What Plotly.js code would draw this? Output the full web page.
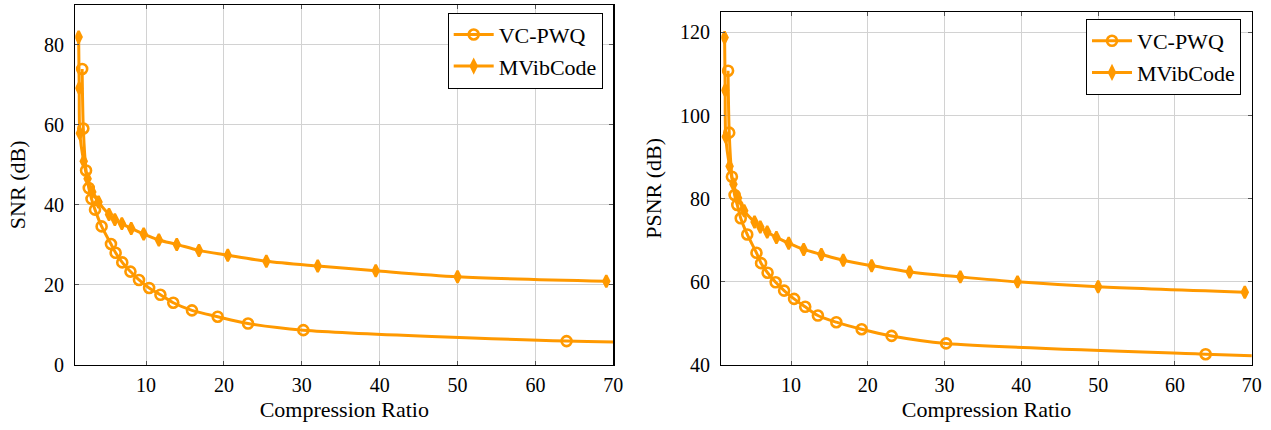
<!DOCTYPE html>
<html>
<head>
<meta charset="utf-8">
<script src="https://cdn.plot.ly/plotly-3.0.1.min.js"></script>
<style>html,body{margin:0;padding:0;background:#fff;}#chart{width:1271px;height:430px;}</style>
</head>
<body>
<div id="chart"></div>
<script>
// VC-PWQ (circles)
const vcX    = [1.8, 1.95, 2.3, 2.65, 3.0, 3.45, 4.3, 5.5, 6.1, 6.95, 8.0, 9.1, 10.4, 11.85, 13.5, 15.9, 19.2, 23.1, 30.2, 64.0, 76.0];
const vcSNR  = [74.0, 59.1, 48.6, 44.2, 41.5, 38.8, 34.6, 30.2, 28.0, 25.6, 23.3, 21.2, 19.2, 17.5, 15.5, 13.6, 12.0, 10.3, 8.65, 5.9, 5.5];
const vcPSNR = [110.8, 95.9, 85.3, 80.9, 78.5, 75.3, 71.4, 67.0, 64.5, 62.2, 59.9, 57.9, 55.9, 54.0, 51.9, 50.3, 48.6, 47.0, 45.2, 42.6, 41.9];
// MVibCode (diamonds)
const mvX    = [1.35, 1.42, 1.5, 2.0, 2.5, 3.1, 3.9, 5.25, 6.0, 6.9, 8.1, 9.7, 11.65, 13.95, 16.8, 20.5, 25.45, 32.05, 39.5, 50.0, 69.1];
const mvSNR  = [82.0, 69.2, 57.9, 50.9, 46.5, 43.2, 40.7, 37.6, 36.3, 35.3, 34.1, 32.7, 31.2, 30.1, 28.6, 27.4, 25.9, 24.7, 23.5, 22.0, 20.9];
const mvPSNR = [118.8, 106.1, 94.9, 87.8, 83.5, 80.2, 77.1, 74.4, 73.2, 72.0, 70.7, 69.3, 67.8, 66.6, 65.2, 63.9, 62.4, 61.2, 60.0, 58.8, 57.5];
const xTicks = [10, 20, 30, 40, 50, 60, 70];
const snrTicks = [0, 20, 40, 60, 80];
const psnrTicks = [40, 60, 80, 100, 120];
const seriesNames = ['VC-PWQ', 'MVibCode'];

const ORANGE = '#ff9900';
const FONT = 'Liberation Serif, Times New Roman, serif';

function vcTrace(y, xa, ya, leg) {
  return {x: vcX, y: y, xaxis: xa, yaxis: ya, name: seriesNames[0], legend: leg, legendgroup: leg + 'a',
    type: 'scatter', mode: 'lines+markers', cliponaxis: true,
    line: {color: ORANGE, width: 3, shape: 'spline', smoothing: 0.8},
    marker: {symbol: 'circle-open', size: 10, color: ORANGE, line: {color: ORANGE, width: 2.6}}};
}
function mvTrace(y, xa, ya, leg) {
  return {x: mvX, y: y, xaxis: xa, yaxis: ya, name: seriesNames[1], legend: leg, legendgroup: leg + 'b',
    type: 'scatter', mode: 'lines+markers', cliponaxis: true,
    line: {color: ORANGE, width: 3, shape: 'spline', smoothing: 0.8},
    marker: {symbol: 'diamond-tall', size: 8.5, color: ORANGE, line: {color: ORANGE, width: 2.4}}};
}

const data = [
  vcTrace(vcSNR, 'x', 'y', 'legend'),
  mvTrace(mvSNR, 'x', 'y', 'legend'),
  vcTrace(vcPSNR, 'x2', 'y2', 'legend2'),
  mvTrace(mvPSNR, 'x2', 'y2', 'legend2')
];

function xax(domain, anchor) {
  return {domain: domain, anchor: anchor, range: [0.92, 70], tickvals: xTicks, ticktext: xTicks.map(String),
    showline: true, linecolor: '#000', linewidth: 1.2, mirror: 'ticks', ticks: 'inside', ticklen: 4, tickcolor: '#555',
    showgrid: true, gridcolor: '#d2d2d2', gridwidth: 1, zeroline: false,
    tickfont: {family: FONT, size: 20, color: '#000'}, ticklabelstandoff: 2,
    title: {text: 'Compression Ratio', font: {family: FONT, size: 22, color: '#000'}, standoff: 6}};
}
function yax(domain, anchor, range, tv, title) {
  return {domain: domain, anchor: anchor, range: range, tickvals: tv, ticktext: tv.map(String),
    showline: true, linecolor: '#000', linewidth: 1.2, mirror: 'ticks', ticks: 'inside', ticklen: 4, tickcolor: '#555',
    showgrid: true, gridcolor: '#d2d2d2', gridwidth: 1, zeroline: false,
    tickfont: {family: FONT, size: 20, color: '#000'}, ticklabelstandoff: 6,
    title: {text: title, font: {family: FONT, size: 22, color: '#000'}, standoff: 12}};
}

const legendStyle = {font: {family: FONT, size: 22, color: '#000'}, bgcolor: '#fff', bordercolor: '#000', borderwidth: 1,
  traceorder: 'grouped', tracegroupgap: 0, itemwidth: 40, yanchor: 'top', xanchor: 'right'};

const layout = {
  width: 1271, height: 430, margin: {l: 0, r: 0, t: 0, b: 0}, paper_bgcolor: '#fff', plot_bgcolor: '#fff',
  showlegend: true,
  xaxis: xax([75.3/1271, 613.3/1271], 'y'),
  yaxis: yax([(430-364.7)/430, (430-5)/430], 'x', [0, 90], snrTicks, 'SNR (dB)'),
  xaxis2: xax([721.3/1271, 1251.7/1271], 'y2'),
  yaxis2: yax([(430-365)/430, (430-11.7)/430], 'x2', [40, 125], psnrTicks, 'PSNR (dB)'),
  legend: Object.assign({}, legendStyle, {x: 602.7/1271, y: (430-12.7)/430}),
  legend2: Object.assign({}, legendStyle, {x: 1241/1271, y: (430-19)/430})
};

Plotly.newPlot('chart', data, layout, {staticPlot: true, displayModeBar: false});
</script>
</body>
</html>
